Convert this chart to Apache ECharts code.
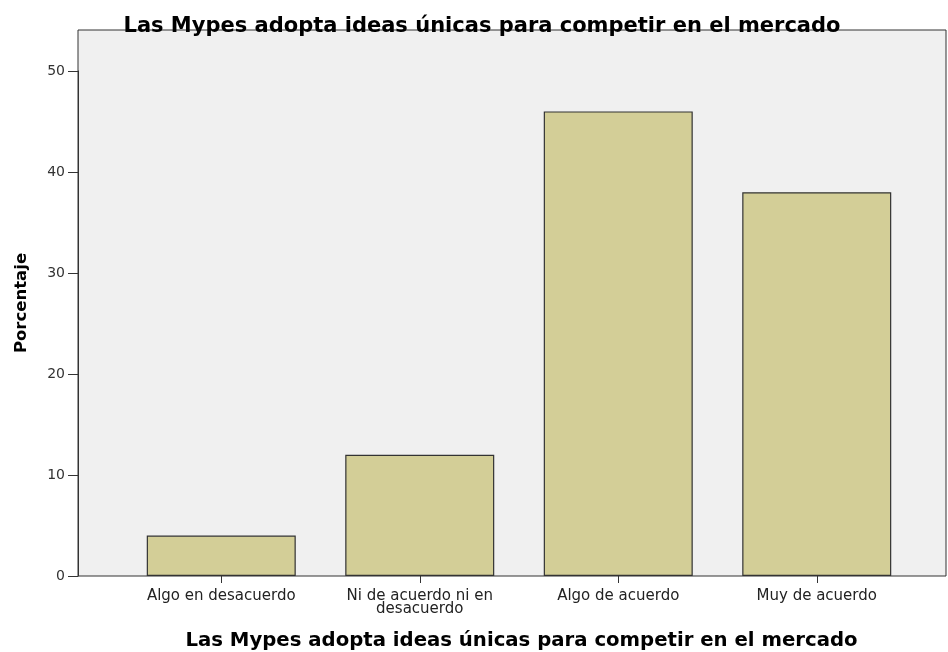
<!DOCTYPE html>
<html>
<head>
<meta charset="utf-8">
<script src="https://cdn.jsdelivr.net/npm/echarts@6/dist/echarts.min.js"></script>
<style>
  html, body { margin: 0; padding: 0; background: #fff; }
  #chart { width: 948px; height: 652px; }
</style>
</head>
<body>
<div id="chart"></div>
<script>
var categories = ['Algo en desacuerdo', 'Ni de acuerdo ni en\ndesacuerdo', 'Algo de acuerdo', 'Muy de acuerdo']
var percentages = [4, 12, 46, 38]
var yTicks = [0, 10, 20, 30, 40, 50]

var titleText = 'Las Mypes adopta ideas únicas para competir en el mercado'

var chart = echarts.init(document.getElementById('chart'))

// grid 0 = grey panel (+ axis names), grid 1 = bars and ticks, inset like the SPSS plot
chart.setOption({
  animation: false,
  title: {
    text: titleText,
    left: 477,
    top: 11,
    textAlign: 'center',
    textStyle: {
      fontFamily: 'DejaVu Sans',
      fontWeight: 'bold',
      fontSize: 21,
      color: '#000'
    }
  },
  grid: [
    {
      left: 78, width: 868, top: 30, height: 546,
      outerBoundsMode: 'none',
      show: true,
      backgroundColor: '#f0f0f0',
      borderColor: '#333',
      borderWidth: 1
    },
    {
      left: 122, width: 794, top: 71, height: 505,
      outerBoundsMode: 'none'
    }
  ],
  xAxis: [
    {
      gridIndex: 0,
      type: 'value',
      min: 0,
      max: 1,
      axisLine: { show: false },
      axisTick: { show: false },
      axisLabel: { show: false },
      splitLine: { show: false },
      name: titleText,
      nameLocation: 'middle',
      nameGap: 55,
      nameTextStyle: {
        fontFamily: 'DejaVu Sans',
        fontWeight: 'bold',
        fontSize: 19.7,
        color: '#000',
        padding: [0, 0, 0, 19]
      }
    },
    {
      gridIndex: 1,
      type: 'category',
      data: categories,
      axisLine: { show: false },
      axisTick: { show: true, alignWithLabel: true, length: 7, lineStyle: { color: '#333' } },
      axisLabel: {
        fontFamily: 'DejaVu Sans',
        fontSize: 15,
        color: '#222',
        lineHeight: 13,
        margin: 14,
        interval: 0
      }
    }
  ],
  yAxis: [
    {
      gridIndex: 0,
      type: 'value',
      min: 0,
      max: 1,
      axisLine: { show: false },
      axisTick: { show: false },
      axisLabel: { show: false },
      splitLine: { show: false },
      name: 'Porcentaje',
      nameLocation: 'middle',
      nameGap: 48,
      nameTextStyle: {
        fontFamily: 'DejaVu Sans',
        fontWeight: 'bold',
        fontSize: 16.5,
        color: '#000'
      }
    },
    {
      gridIndex: 1,
      type: 'value',
      min: 0,
      max: 50,
      interval: 10,
      offset: 44,
      axisLine: { show: true, lineStyle: { color: '#333' } },
      axisTick: { show: true, length: 10, lineStyle: { color: '#333' } },
      axisLabel: {
        fontFamily: 'DejaVu Sans',
        fontSize: 14,
        color: '#333',
        margin: 13,
        formatter: function (v) { return yTicks.indexOf(v) >= 0 ? String(v) : '' }
      },
      splitLine: { show: false }
    }
  ],
  series: [
    {
      type: 'bar',
      xAxisIndex: 1,
      yAxisIndex: 1,
      data: percentages,
      barWidth: 149,
      itemStyle: {
        color: '#d3ce97',
        borderColor: '#333',
        borderWidth: 1.2
      }
    }
  ]
})
</script>
</body>
</html>
